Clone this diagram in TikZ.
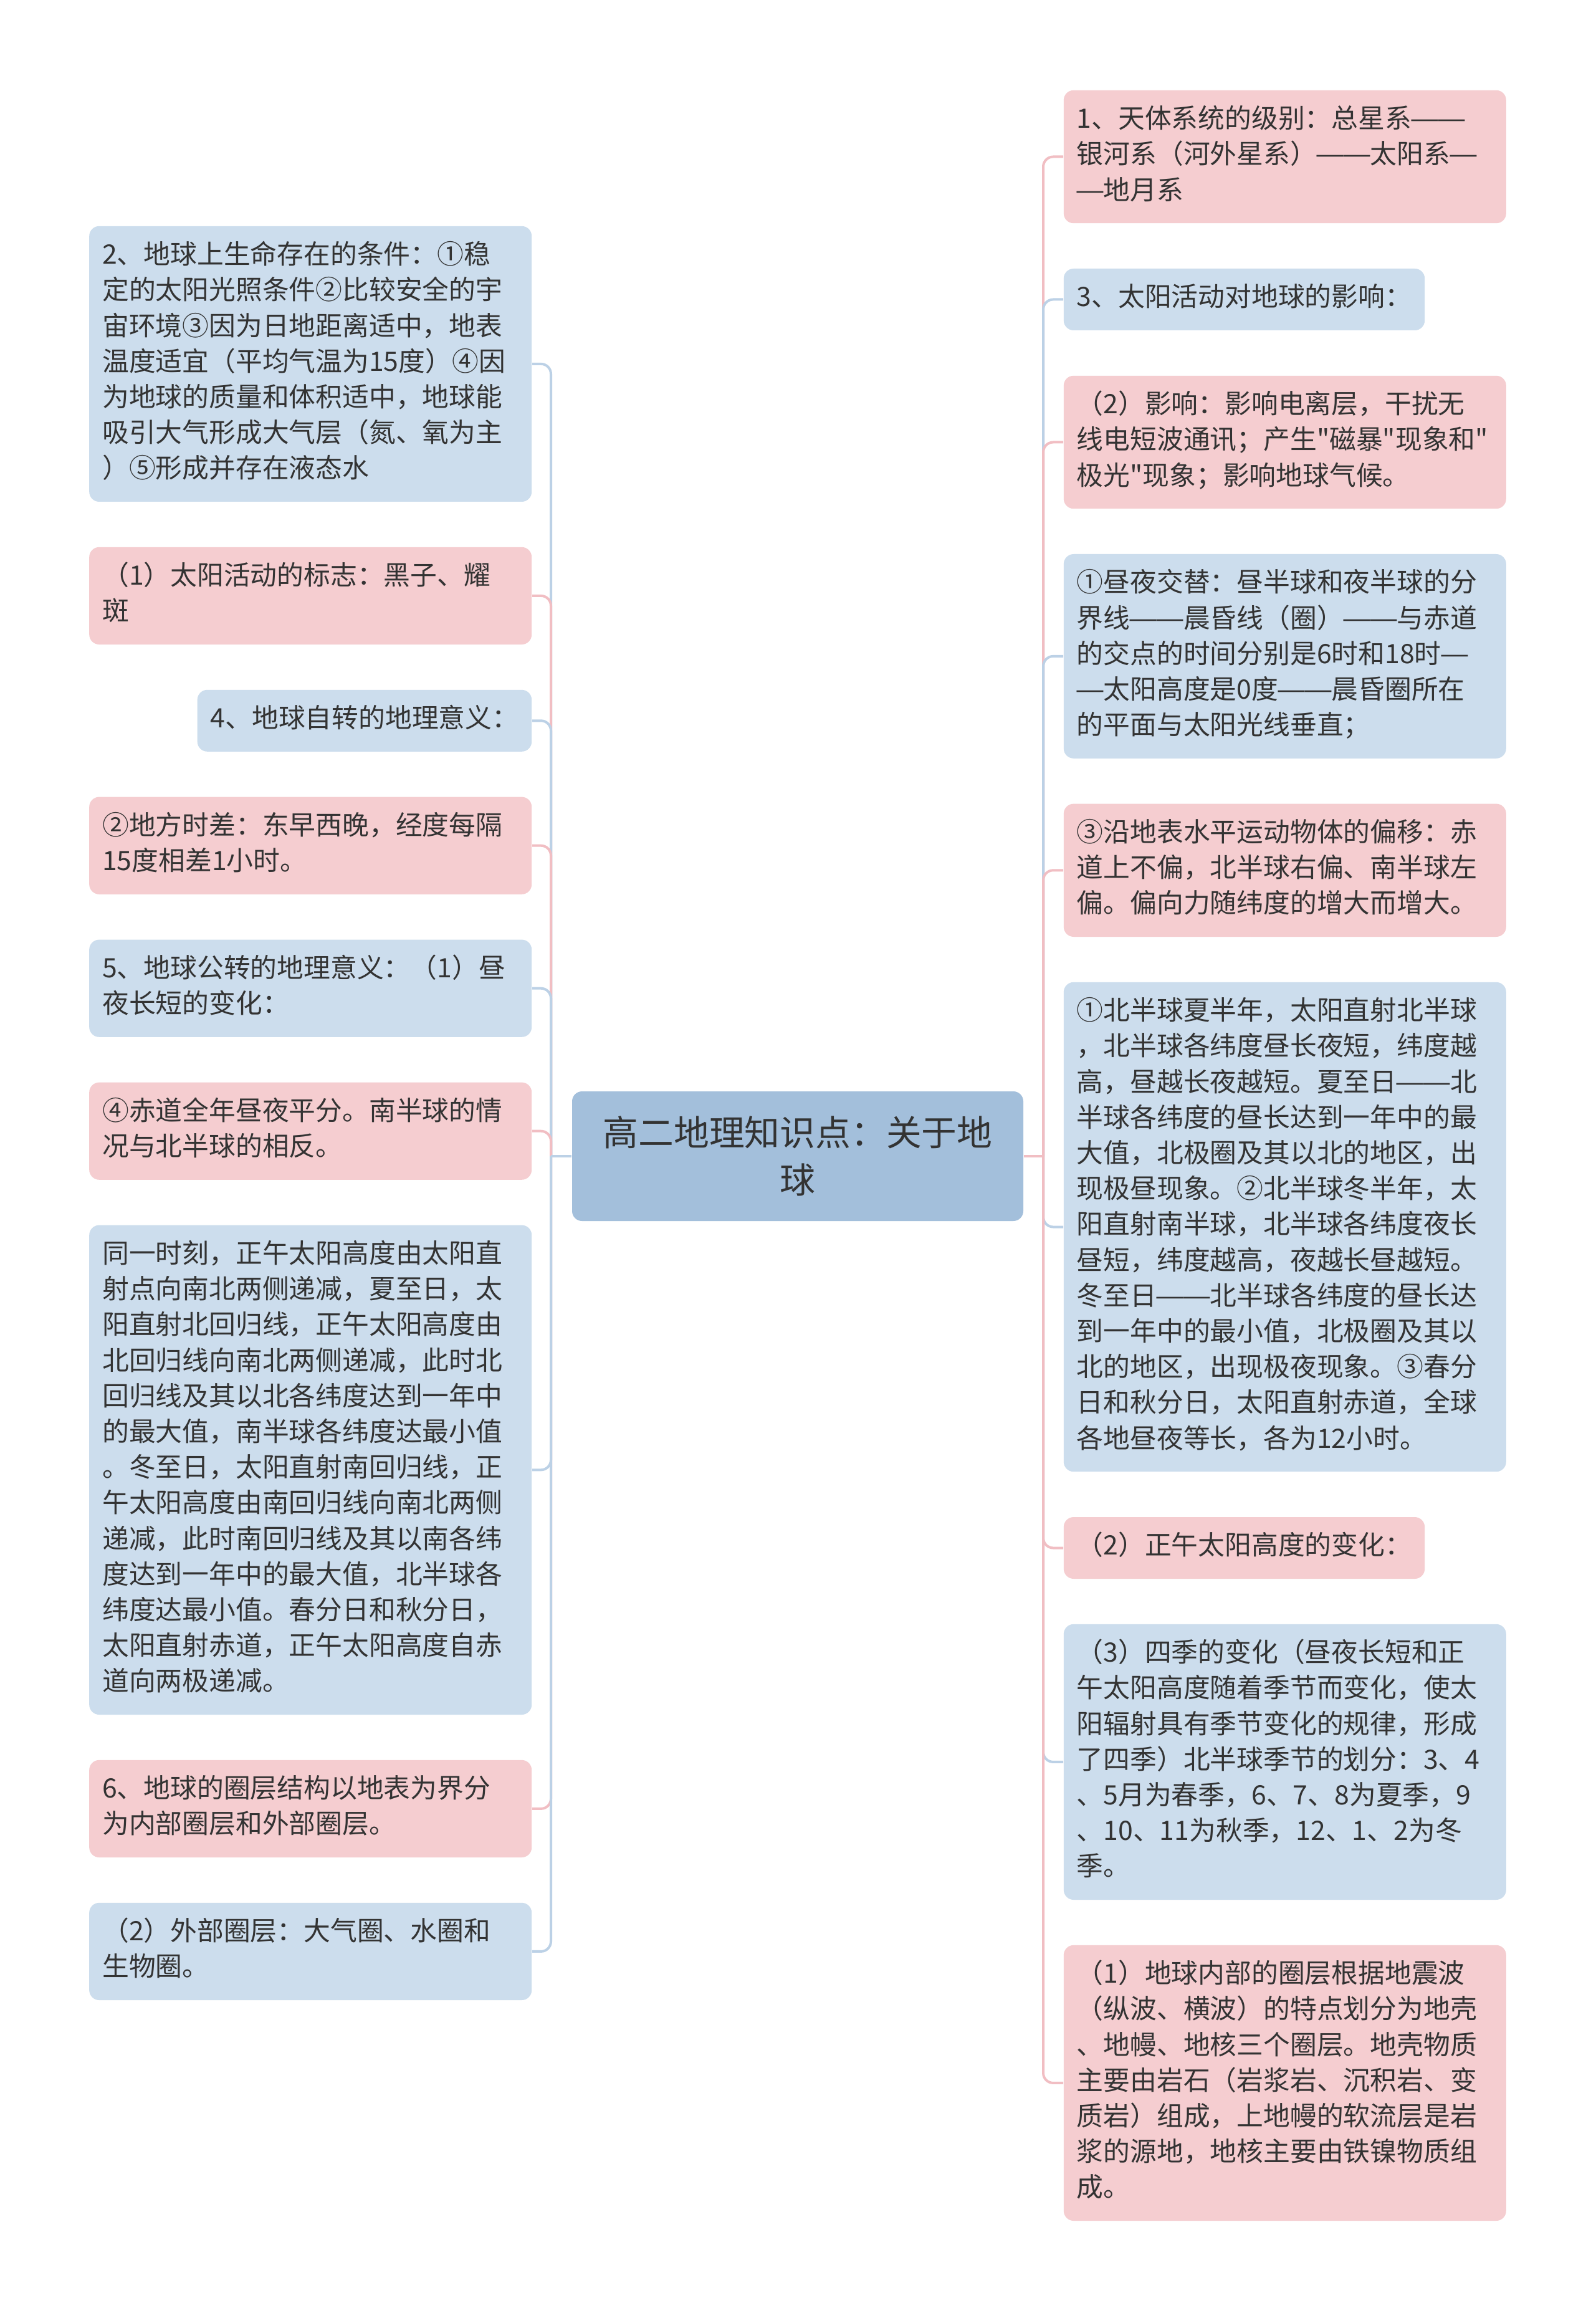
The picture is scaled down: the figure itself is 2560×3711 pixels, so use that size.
\documentclass[tikz,border=0pt]{standalone}
\usepackage{fontspec}
\usepackage{graphicx}
\newfontfamily\cjk{Noto Sans CJK SC}
\usetikzlibrary{positioning}

\definecolor{inkgray}{HTML}{333333}
\definecolor{rootblue}{HTML}{A3BFDB}
\definecolor{leafblue}{HTML}{CCDDED}
\definecolor{leafpink}{HTML}{F5CDD0}
\definecolor{lineblue}{HTML}{BCD1E6}
\definecolor{linepink}{HTML}{F1BEC3}

% full-width dash, as the reference sets it
\newcommand\emd{\makebox[1em][c]{\resizebox{1.12em}{\height}{—}}}

\begin{document}
\begin{tikzpicture}[
  x=0.25pt, y=-0.25pt,
  node distance=17.8pt and 0pt,
  leaf/.style  ={rounded corners=4pt, align=left, text=inkgray,
                 inner xsep=5.25pt, inner ysep=5.225pt,
                 font=\cjk\fontsize{10.7pt}{14.3pt}\selectfont,
                 execute at begin node=\strut, execute at end node=\strut},
  wide/.style  ={leaf, text width=167pt},
  bl/.style    ={fill=leafblue},
  pk/.style    ={fill=leafpink},
  topic/.style ={rounded corners=4pt, fill=rootblue, text=inkgray, align=center,
                 minimum width=181pt, minimum height=52pt,
                 font=\cjk\fontsize{14.2pt}{19pt}\selectfont},
  linkb/.style ={lineblue, line width=1pt, rounded corners=4pt},
  linkp/.style ={linepink, line width=1pt, rounded corners=4pt},
]
\path[use as bounding box, fill=white] (0,0) rectangle (2560,3711);

% ================= centre topic =================
\node[topic] (root) at (1280,1855) {高二地理知识点：关于地\\球};

% ================= left column =================
\node[wide, bl, anchor=north east] (L1) at (854,362)
  {2、地球上生命存在的条件：①稳\\定的太阳光照条件②比较安全的宇\\宙环境③因为日地距离适中，地表\\温度适宜（平均气温为15度）④因\\为地球的质量和体积适中，地球能\\吸引大气形成大气层（氮、氧为主\\）⑤形成并存在液态水};
\node[wide, pk, below left=of L1.south east] (L2)
  {（1）太阳活动的标志：黑子、耀\\斑};
\node[leaf, bl, below left=of L2.south east] (L3)
  {4、地球自转的地理意义：};
\node[wide, pk, below left=of L3.south east] (L4)
  {②地方时差：东早西晚，经度每隔\\15度相差1小时。};
\node[wide, bl, below left=of L4.south east] (L5)
  {5、地球公转的地理意义：（1）昼\\夜长短的变化：};
\node[wide, pk, below left=of L5.south east] (L6)
  {④赤道全年昼夜平分。南半球的情\\况与北半球的相反。};
\node[wide, bl, below left=of L6.south east] (L7)
  {同一时刻，正午太阳高度由太阳直\\射点向南北两侧递减，夏至日，太\\阳直射北回归线，正午太阳高度由\\北回归线向南北两侧递减，此时北\\回归线及其以北各纬度达到一年中\\的最大值，南半球各纬度达最小值\\。冬至日，太阳直射南回归线，正\\午太阳高度由南回归线向南北两侧\\递减，此时南回归线及其以南各纬\\度达到一年中的最大值，北半球各\\纬度达最小值。春分日和秋分日，\\太阳直射赤道，正午太阳高度自赤\\道向两极递减。};
\node[wide, pk, below left=of L7.south east] (L8)
  {6、地球的圈层结构以地表为界分\\为内部圈层和外部圈层。};
\node[wide, bl, below left=of L8.south east] (L9)
  {（2）外部圈层：大气圈、水圈和\\生物圈。};

% ================= right column =================
\node[wide, pk, anchor=north west] (R1) at (1706,144)
  {1、天体系统的级别：总星系\emd\emd\\银河系（河外星系）\emd\emd 太阳系\emd\\\emd 地月系};
\node[leaf, bl, below right=of R1.south west] (R2)
  {3、太阳活动对地球的影响：};
\node[wide, pk, below right=of R2.south west] (R3)
  {（2）影响：影响电离层，干扰无\\线电短波通讯；产生"磁暴"现象和"\\极光"现象；影响地球气候。};
\node[wide, bl, below right=of R3.south west] (R4)
  {①昼夜交替：昼半球和夜半球的分\\界线\emd\emd 晨昏线（圈）\emd\emd 与赤道\\的交点的时间分别是6时和18时\emd\\\emd 太阳高度是0度\emd\emd 晨昏圈所在\\的平面与太阳光线垂直；};
\node[wide, pk, below right=of R4.south west] (R5)
  {③沿地表水平运动物体的偏移：赤\\道上不偏，北半球右偏、南半球左\\偏。偏向力随纬度的增大而增大。};
\node[wide, bl, below right=of R5.south west] (R6)
  {①北半球夏半年，太阳直射北半球\\，北半球各纬度昼长夜短，纬度越\\高，昼越长夜越短。夏至日\emd\emd 北\\半球各纬度的昼长达到一年中的最\\大值，北极圈及其以北的地区，出\\现极昼现象。②北半球冬半年，太\\阳直射南半球，北半球各纬度夜长\\昼短，纬度越高，夜越长昼越短。\\冬至日\emd\emd 北半球各纬度的昼长达\\到一年中的最小值，北极圈及其以\\北的地区，出现极夜现象。③春分\\日和秋分日，太阳直射赤道，全球\\各地昼夜等长，各为12小时。};
\node[leaf, pk, below right=of R6.south west] (R7)
  {（2）正午太阳高度的变化：};
\node[wide, bl, below right=of R7.south west] (R8)
  {（3）四季的变化（昼夜长短和正\\午太阳高度随着季节而变化，使太\\阳辐射具有季节变化的规律，形成\\了四季）北半球季节的划分：3、4\\、5月为春季，6、7、8为夏季，9\\、10、11为秋季，12、1、2为冬\\季。};
\node[wide, pk, below right=of R8.south west] (R9)
  {（1）地球内部的圈层根据地震波\\（纵波、横波）的特点划分为地壳\\、地幔、地核三个圈层。地壳物质\\主要由岩石（岩浆岩、沉积岩、变\\质岩）组成，上地幔的软流层是岩\\浆的源地，地核主要由铁镍物质组\\成。};

% ================= connectors =================
\coordinate (lj) at (884,1855);
\coordinate (rj) at (1674,1855);

\foreach \n/\s in {L1/linkb, L2/linkp, L3/linkb, L4/linkp, L5/linkb,
                   L6/linkp, L7/linkb, L8/linkp, L9/linkb}
  {\draw[\s] (lj) |- (\n.east);}
\draw[linkb] (root.west) -- (lj);

\foreach \n/\s in {R1/linkp, R2/linkb, R3/linkp, R4/linkb, R5/linkp,
                   R6/linkb, R7/linkp, R8/linkb, R9/linkp}
  {\draw[\s] (rj) |- (\n.west);}
\draw[linkp] (root.east) -- (rj);

\end{tikzpicture}
\end{document}
